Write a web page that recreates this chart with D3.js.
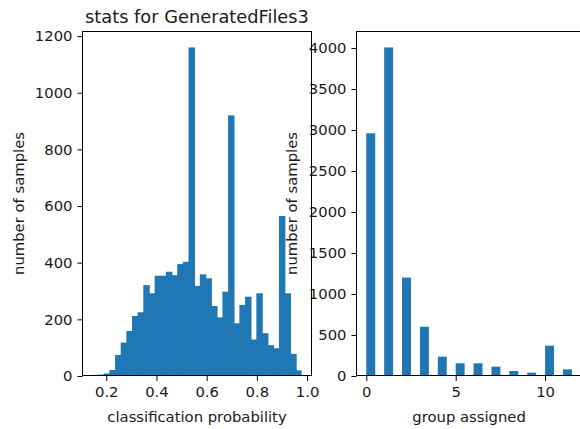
<!DOCTYPE html>
<html>
<head>
<meta charset="utf-8">
<script src="https://cdn.jsdelivr.net/npm/d3@7"></script>
<style>
  html, body { margin: 0; padding: 0; background: #fff; }
  svg { display: block; }
  text { font-family: "DejaVu Sans", sans-serif; fill: #1a1a1a; }
</style>
</head>
<body>
<svg id="chart" width="580" height="429"></svg>
<script>
// ---------- data ----------
const titleText = "stats for GeneratedFiles3";
const probMin = 0.145;          // left edge of first histogram bin
const probMax = 0.978;          // right edge of last histogram bin
const probCounts = [4, 5, 9, 21, 74, 118, 159, 212, 225, 321, 292, 354, 354, 368, 356, 395, 403, 1160,
                    318, 359, 345, 247, 207, 298, 920, 186, 251, 280, 129, 292, 151, 109, 98, 565, 292, 78, 20];
const probTicks = [0.2, 0.4, 0.6, 0.8, 1.0];
const probYTicks = [0, 200, 400, 600, 800, 1000, 1200];

const groups = [0, 1, 2, 3, 4, 5, 6, 7, 8, 9, 10, 11];
const groupCounts = [2960, 4007, 1200, 601, 236, 155, 155, 114, 61, 41, 370, 81];
const groupBarWidth = 0.5;
const groupTicks = [0, 5, 10];
const groupYTicks = [0, 500, 1000, 1500, 2000, 2500, 3000, 3500, 4000];

// ---------- layout ----------
const svg = d3.select("#chart");
const color = "#1f77b4";
const fs = 14.8;
const plotTop = 31, plotBottom = 376;

function styleAxis(g) {
  g.select(".domain").remove();
  g.selectAll(".tick line").attr("stroke", "#000").attr("stroke-width", 1);
  g.selectAll(".tick text").style("font-size", fs + "px").style("font-family", "DejaVu Sans").attr("fill", "#1a1a1a");
}

// ---------- left panel ----------
{
  const L = 82, R = 312;
  const nb = probCounts.length;
  const bw = (probMax - probMin) / nb;
  const bins = probCounts.map((c, i) => ({x0: probMin + i * bw, x1: probMin + (i + 1) * bw, c}));
  const margin = 0.05 * (probMax - probMin);
  const x = d3.scaleLinear().domain([probMin - margin, probMax + margin]).range([L, R]);
  const yMax = d3.max(probCounts) * 1.05;
  const y = d3.scaleLinear().domain([0, yMax]).range([plotBottom, plotTop]);

  const barG = svg.append("g");
  barG.selectAll("rect").data(bins).join("rect")
    .attr("x", d => x(d.x0))
    .attr("width", (d, i) => x(d.x1) - x(d.x0) + (i < nb - 1 ? 0.8 : 0))
    .attr("y", d => y(d.c))
    .attr("height", d => y(0) - y(d.c))
    .attr("fill", color);

  svg.append("rect").attr("x", L + 0.5).attr("y", plotTop + 0.5)
    .attr("width", R - L - 1).attr("height", plotBottom - plotTop - 1)
    .attr("fill", "none").attr("stroke", "#000").attr("stroke-width", 1);

  svg.append("g").attr("transform", `translate(0,${plotBottom})`)
    .call(d3.axisBottom(x).tickValues(probTicks).tickFormat(d3.format(".1f")).tickSize(5).tickPadding(5))
    .call(styleAxis);
  svg.append("g").attr("transform", `translate(${L + 0.5},0)`)
    .call(d3.axisLeft(y).tickValues(probYTicks).tickFormat(d3.format("d")).tickSize(5).tickPadding(5))
    .call(styleAxis);

  svg.append("text").attr("x", (L + R) / 2).attr("y", 23).attr("text-anchor", "middle")
    .style("font-size", "17.8px").text(titleText);
  svg.append("text").attr("x", (L + R) / 2).attr("y", 422).attr("text-anchor", "middle")
    .style("font-size", fs + "px").text("classification probability");
  svg.append("text").attr("transform", `translate(24,${(plotTop + plotBottom) / 2}) rotate(-90)`)
    .attr("text-anchor", "middle").style("font-size", fs + "px").text("number of samples");
}

// ---------- right panel ----------
{
  const L = 356, R = 582.2;
  const dMin = d3.min(groups), dMax = d3.max(groups) + groupBarWidth;
  const margin = 0.05 * (dMax - dMin);
  const x = d3.scaleLinear().domain([dMin - margin, dMax + margin]).range([L, R]);
  const yMax = d3.max(groupCounts) * 1.05;
  const y = d3.scaleLinear().domain([0, yMax]).range([plotBottom, plotTop]);

  svg.append("g").selectAll("rect").data(groups).join("rect")
    .attr("x", (d) => x(d))
    .attr("width", d => x(d + groupBarWidth) - x(d))
    .attr("y", (d, i) => y(groupCounts[i]))
    .attr("height", (d, i) => y(0) - y(groupCounts[i]))
    .attr("fill", color);

  svg.append("rect").attr("x", L + 0.5).attr("y", plotTop + 0.5)
    .attr("width", R - L).attr("height", plotBottom - plotTop - 1)
    .attr("fill", "none").attr("stroke", "#000").attr("stroke-width", 1);

  svg.append("g").attr("transform", `translate(0,${plotBottom})`)
    .call(d3.axisBottom(x).tickValues(groupTicks).tickFormat(d3.format("d")).tickSize(5).tickPadding(5))
    .call(styleAxis);
  svg.append("g").attr("transform", `translate(${L + 0.5},0)`)
    .call(d3.axisLeft(y).tickValues(groupYTicks).tickFormat(d3.format("d")).tickSize(5).tickPadding(5))
    .call(styleAxis);

  svg.append("text").attr("x", (L + R) / 2).attr("y", 422).attr("text-anchor", "middle")
    .style("font-size", fs + "px").text("group assigned");
  svg.append("text").attr("transform", `translate(297,${(plotTop + plotBottom) / 2}) rotate(-90)`)
    .attr("text-anchor", "middle").style("font-size", fs + "px").text("number of samples");
}
</script>
</body>
</html>
